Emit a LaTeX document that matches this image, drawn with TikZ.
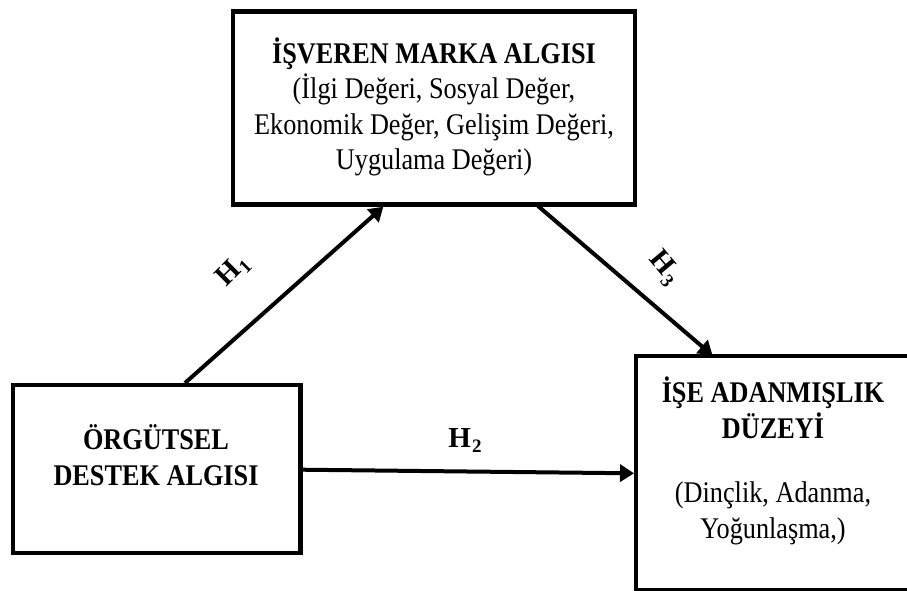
\documentclass[tikz,border=0pt]{standalone}
\usepackage{fontspec}
\setmainfont{Liberation Serif}[FakeStretch=0.875]
\newfontfamily\hypfont{Liberation Serif}[BoldFont={* Bold}]
\usetikzlibrary{arrows.meta}
\newcommand{\hsub}[1]{H\kern1pt\raisebox{-5pt}{\fontsize{19}{20}\selectfont #1}}
\begin{document}
\begin{tikzpicture}[x=1pt,y=-1pt,
  box/.style={draw=black,line width=4.5pt,fill=none},
  txt/.style={align=center,font=\fontsize{30}{35.5}\selectfont,inner sep=0pt},
  hyp/.style={font=\hypfont\fontsize{29}{30}\selectfont\bfseries,inner sep=0pt},
  arr/.style={line width=4pt,-{Triangle[length=14pt,width=17pt]}}]
\useasboundingbox (0,0) rectangle (907,590);
\draw[box] (233,11.7) rectangle (635,204.7);
\draw[box] (12.8,385) rectangle (300.5,553);
\draw[box] (636,356) rectangle (912,590.5);
\node[txt] (ttext) at (434,107) {\textbf{İŞVEREN MARKA ALGISI}\\(İlgi Değeri, Sosyal Değer,\\Ekonomik Değer, Gelişim Değeri,\\Uygulama Değeri)};
\node[txt] (ltext) at (156,455) {\textbf{ÖRGÜTSEL}\\\textbf{DESTEK ALGISI}};
\node[txt] (rtext) at (773,461) {\textbf{İŞE ADANMIŞLIK}\\\textbf{DÜZEYİ}\\[29pt](Dinçlik, Adanma,\\Yoğunlaşma,)};
\coordinate (a1s) at (185,383);
\coordinate (a1e) at (383.3,206.7);
\coordinate (a3s) at (538,206);
\coordinate (a3e) at (712.6,355.5);
\coordinate (a2s) at (302,469.7);
\coordinate (a2e) at (634,473.3);
\draw[arr] (a1s) -- (a1e);
\draw[arr] (a3s) -- (a3e);
\draw[arr] (a2s) -- (a2e);
\node[hyp,rotate=45] (h1) at (233,271) {\hsub{1}};
\node[hyp,rotate=-50] (h3) at (664,268) {\hsub{3}};
\node[hyp] (h2) at (465,440) {\hsub{2}};
\end{tikzpicture}
\end{document}
